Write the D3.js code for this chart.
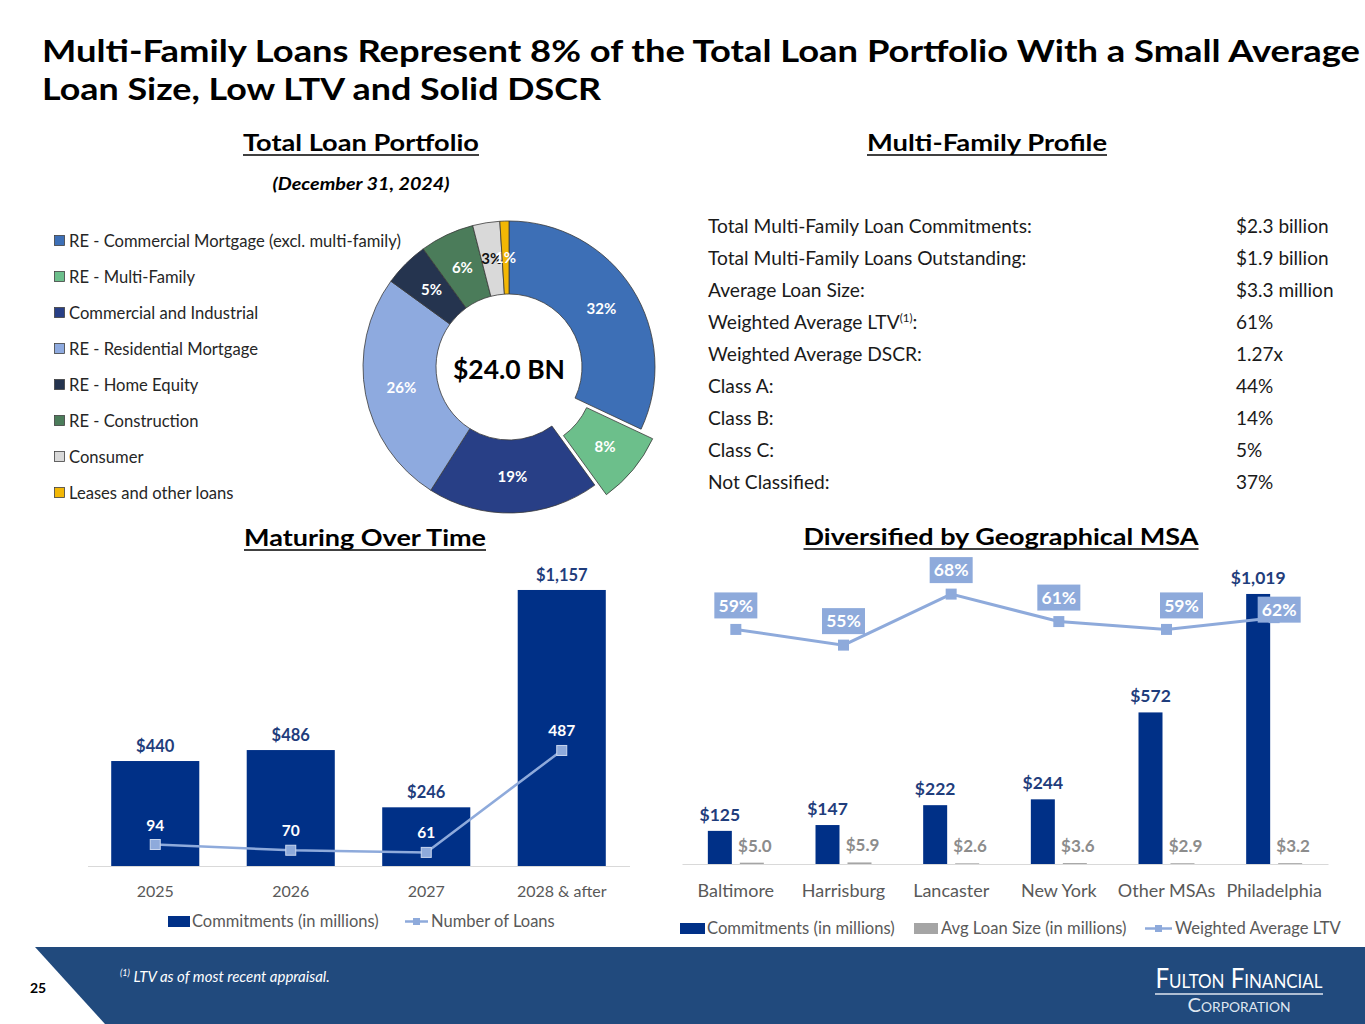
<!DOCTYPE html>
<html><head><meta charset="utf-8">
<script src="https://cdn.jsdelivr.net/npm/d3@7/dist/d3.min.js"></script>
<style>
body{margin:0;background:#fff}
svg{display:block}
text{font-family:Lato,"Open Sans",sans-serif}
</style>
</head><body>
<svg id="c" width="1365" height="1024"></svg>
<script>
// ---------------- DATA ----------------
const titleLines = ["Multi-Family Loans Represent 8% of the Total Loan Portfolio With a Small Average",
                    "Loan Size, Low LTV and Solid DSCR"];
const portfolioCategories = ["RE - Commercial Mortgage (excl. multi-family)","RE - Multi-Family",
  "Commercial and Industrial","RE - Residential Mortgage","RE - Home Equity","RE - Construction",
  "Consumer","Leases and other loans"];
const portfolioShares = [32, 8, 19, 26, 5, 6, 3, 1];
const portfolioTotal = "$24.0 BN";
const portfolioDate = "(December 31, 2024)";

const profileLabels = ["Total Multi-Family Loan Commitments:","Total Multi-Family Loans Outstanding:",
  "Average Loan Size:","Weighted Average LTV","Weighted Average DSCR:","Class A:","Class B:","Class C:","Not Classified:"];
const profileValues = ["$2.3 billion","$1.9 billion","$3.3 million","61%","1.27x","44%","14%","5%","37%"];

const maturityYears = ["2025","2026","2027","2028 & after"];
const maturityCommitments = [440, 486, 246, 1157];
const maturityLoanCounts = [94, 70, 61, 487];

const msaNames = ["Baltimore","Harrisburg","Lancaster","New York","Other MSAs","Philadelphia"];
const msaCommitments = [125, 147, 222, 244, 572, 1019];
const msaAvgLoanSize = [5.0, 5.9, 2.6, 3.6, 2.9, 3.2];
const msaLTV = [59, 55, 68, 61, 59, 62];

// ---------------- STYLE ----------------
const sliceColors = ["#3d6fb6","#6cbf8b","#283f86","#8eaadf","#25344f","#4b7c5a","#d9d9d9","#f2b705"];
const navy = "#003087", labelNavy = "#1f3d7c", ltvBlue = "#8eaadb", greyBar = "#a5a5a5",
      axisText = "#595959", bandBlue = "#214a7d";

const svg = d3.select("#c");

// Title
svg.selectAll("text.title").data(titleLines).join("text").attr("class","title")
  .attr("x",42).attr("y",(d,i)=>62+i*38).attr("font-size",31).attr("font-weight",700).attr("fill","#000")
  .attr("textLength",(d,i)=>i===0?1318:559).attr("lengthAdjust","spacingAndGlyphs").text(d=>d);

// Section headings (underlined)
function heading(txt, cx, y, w){
  svg.append("text").attr("x",cx).attr("y",y).attr("text-anchor","middle").attr("font-size",22.5)
    .attr("font-weight",700).attr("fill","#000").attr("textLength",w).attr("lengthAdjust","spacingAndGlyphs").text(txt);
  svg.append("line").attr("x1",cx-w/2).attr("x2",cx+w/2).attr("y1",y+4).attr("y2",y+4)
    .attr("stroke","#000").attr("stroke-width",1.6);
}
heading("Total Loan Portfolio",361,151,236);
heading("Multi-Family  Profile",987,151,240);
heading("Maturing Over Time",365,546,242);
heading("Diversified by Geographical MSA",1001,545,395);

svg.append("text").attr("x",361).attr("y",190).attr("text-anchor","middle").attr("font-size",16.5)
  .attr("font-weight",700).attr("font-style","italic").attr("fill","#000")
  .attr("textLength",177).attr("lengthAdjust","spacingAndGlyphs").text(portfolioDate);

// ---------------- DONUT ----------------
const cx = 509, cy = 367, rOut = 146, rIn = 73;
const pie = d3.pie().sort(null).value(d=>d)(portfolioShares);
const arc = d3.arc().innerRadius(rIn).outerRadius(rOut);
const labelArc = d3.arc().innerRadius((rIn+rOut)/2).outerRadius((rIn+rOut)/2);
const explodeIdx = 1, explodeBy = 15;
const dg = svg.append("g").attr("transform",`translate(${cx},${cy})`);
const slices = dg.selectAll("g.sl").data(pie).join("g").attr("class","sl")
  .attr("transform",(d,i)=>{
    if(i!==explodeIdx) return null;
    const a=(d.startAngle+d.endAngle)/2;
    return `translate(${Math.sin(a)*explodeBy},${-Math.cos(a)*explodeBy})`;
  });
slices.append("path").attr("d",arc).attr("fill",(d,i)=>sliceColors[i])
  .attr("stroke","#3a3a3a").attr("stroke-width",0.8);
slices.append("text").attr("transform",d=>`translate(${labelArc.centroid(d)})`)
  .attr("text-anchor","middle").attr("dy","0.36em").attr("font-size",15).attr("font-weight",700)
  .attr("fill",(d,i)=>d3.hsl(sliceColors[i]).l>0.8?"#111":"#fff").text(d=>d.data+"%");
dg.append("text").attr("text-anchor","middle").attr("y",12).attr("font-size",27).attr("font-weight",700)
  .attr("fill","#000").attr("textLength",112).attr("lengthAdjust","spacingAndGlyphs").text(portfolioTotal);

// Legend
const lg = svg.append("g");
portfolioCategories.forEach((c,i)=>{
  const y = 241 + i*36;
  lg.append("rect").attr("x",54.5).attr("y",y-5.5).attr("width",10).attr("height",10)
    .attr("fill",sliceColors[i]).attr("stroke","#404040").attr("stroke-width",0.8);
  lg.append("text").attr("x",69).attr("y",y+5.5).attr("font-size",16.6).attr("fill","#262626").text(c);
});

// ---------------- PROFILE TABLE ----------------
const tg = svg.append("g");
profileLabels.forEach((l,i)=>{
  const y = 233 + i*32;
  const t = tg.append("text").attr("x",708).attr("y",y).attr("font-size",19.2).attr("fill","#1a1a1a");
  t.append("tspan").text(l);
  if(l==="Weighted Average LTV"){
    t.append("tspan").attr("font-size",11.5).attr("dy",-7).text("(1)");
    t.append("tspan").attr("dy",7).text(":");
  }
  tg.append("text").attr("x",1236).attr("y",y).attr("font-size",19).attr("fill","#1a1a1a").text(profileValues[i]);
});

// ---------------- MATURING OVER TIME ----------------
{
  const x = d3.scaleBand().domain(maturityYears).range([87.5,629.5]).paddingInner(0.35).paddingOuter(0.175);
  const y = d3.scaleLinear().domain([0,1400]).range([866,532]);
  const yN = d3.scaleLinear().domain([0,1400]).range([867,532]);
  const g = svg.append("g");
  const ax = g.append("g").attr("transform","translate(0,866)").call(d3.axisBottom(x).tickSize(0).tickPadding(20));
  ax.select(".domain").attr("stroke","#d9d9d9").attr("stroke-width",1.2);
  ax.selectAll("text").attr("font-size",16).attr("fill",axisText).attr("font-family","Lato");
  g.selectAll("rect.bar").data(maturityCommitments).join("rect").attr("class","bar")
    .attr("x",(d,i)=>x(maturityYears[i])).attr("width",x.bandwidth())
    .attr("y",d=>y(d)).attr("height",d=>y(0)-y(d)).attr("fill",navy);
  g.selectAll("text.bl").data(maturityCommitments).join("text").attr("class","bl")
    .attr("x",(d,i)=>x(maturityYears[i])+x.bandwidth()/2).attr("y",d=>y(d)-9)
    .attr("text-anchor","middle").attr("font-size",16.5).attr("font-weight",700).attr("fill",labelNavy)
    .text(d=>"$"+d3.format(",")(d));
  const cxs = i=>x(maturityYears[i])+x.bandwidth()/2;
  g.append("path").datum(maturityLoanCounts)
    .attr("d",d3.line().x((d,i)=>cxs(i)).y(d=>yN(d)))
    .attr("fill","none").attr("stroke",ltvBlue).attr("stroke-width",2.5);
  g.selectAll("rect.mk").data(maturityLoanCounts).join("rect").attr("class","mk")
    .attr("x",(d,i)=>cxs(i)-5).attr("y",d=>yN(d)-5).attr("width",10).attr("height",10)
    .attr("fill",ltvBlue).attr("stroke","#c9d6ee").attr("stroke-width",1);
  g.selectAll("text.nl").data(maturityLoanCounts).join("text").attr("class","nl")
    .attr("x",(d,i)=>cxs(i)).attr("y",d=>yN(d)-14)
    .attr("text-anchor","middle").attr("font-size",15.5).attr("font-weight",700).attr("fill","#fff").text(d=>d);
  // legend
  g.append("rect").attr("x",168).attr("y",916).attr("width",22).attr("height",11).attr("fill",navy);
  g.append("text").attr("x",192).attr("y",927).attr("font-size",16.5).attr("fill",axisText).text("Commitments (in millions)");
  g.append("line").attr("x1",405).attr("x2",428).attr("y1",921.5).attr("y2",921.5).attr("stroke",ltvBlue).attr("stroke-width",2.5);
  g.append("rect").attr("x",413).attr("y",918).attr("width",7).attr("height",7).attr("fill",ltvBlue);
  g.append("text").attr("x",431).attr("y",927).attr("font-size",16.5).attr("fill",axisText).text("Number of Loans");
}

// ---------------- MSA ----------------
{
  const x = d3.scaleBand().domain(msaNames).range([682,1328]).paddingInner(0.48).paddingOuter(0.24);
  const x1 = d3.scaleBand().domain(["c","a"]).range([0,x.bandwidth()]).paddingInner(0.25);
  const y = d3.scaleLinear().domain([0,1200]).range([864,546]);
  const yL = d3.scaleLinear().domain([0,80]).range([861,547]);
  const g = svg.append("g");
  const ax = g.append("g").attr("transform","translate(0,864)").call(d3.axisBottom(x).tickSize(0).tickPadding(20));
  ax.select(".domain").attr("stroke","#d9d9d9").attr("stroke-width",1.2);
  ax.selectAll("text").attr("font-size",18).attr("fill",axisText).attr("font-family","Lato");

  g.selectAll("rect.cb").data(msaCommitments).join("rect").attr("class","cb")
    .attr("x",(d,i)=>x(msaNames[i])+x1("c")).attr("width",x1.bandwidth())
    .attr("y",d=>y(d)).attr("height",d=>y(0)-y(d)).attr("fill",navy);
  g.selectAll("rect.ab").data(msaAvgLoanSize).join("rect").attr("class","ab")
    .attr("x",(d,i)=>x(msaNames[i])+x1("a")).attr("width",x1.bandwidth())
    .attr("y",d=>y(d)).attr("height",d=>y(0)-y(d)).attr("fill",greyBar);
  g.selectAll("text.cl").data(msaCommitments).join("text").attr("class","cl")
    .attr("x",(d,i)=>x(msaNames[i])+x1("c")+x1.bandwidth()/2).attr("y",d=>y(d)-10)
    .attr("text-anchor","middle").attr("font-size",17.5).attr("font-weight",700).attr("fill",labelNavy)
    .text(d=>"$"+d3.format(",")(d));
  g.selectAll("text.al").data(msaAvgLoanSize).join("text").attr("class","al")
    .attr("x",(d,i)=>x(msaNames[i])+x1("a")+x1.bandwidth()/2+3).attr("y",d=>y(d)-11)
    .attr("text-anchor","middle").attr("font-size",17).attr("font-weight",700).attr("fill","#8c8c8c")
    .text(d=>"$"+d3.format(".1f")(d));

  const mx = i=>x(msaNames[i])+x.bandwidth()/2;
  g.append("path").datum(msaLTV).attr("d",d3.line().x((d,i)=>mx(i)).y(d=>yL(d)))
    .attr("fill","none").attr("stroke",ltvBlue).attr("stroke-width",3);
  g.selectAll("rect.lm").data(msaLTV).join("rect").attr("class","lm")
    .attr("x",(d,i)=>mx(i)-5.5).attr("y",d=>yL(d)-5.5).attr("width",11).attr("height",11).attr("fill",ltvBlue);
  const nudge = {4:[15,-24],5:[5,-8]};
  const lbl = g.selectAll("g.ll").data(msaLTV).join("g").attr("class","ll")
    .attr("transform",(d,i)=>{const n=nudge[i]||[0,-24];return `translate(${mx(i)+n[0]},${yL(d)+n[1]})`;});
  lbl.append("rect").attr("x",-21.5).attr("y",-13).attr("width",43).attr("height",26).attr("fill",ltvBlue);
  lbl.append("text").attr("text-anchor","middle").attr("dy","0.36em").attr("font-size",17.5).attr("font-weight",700)
    .attr("fill","#fff").text(d=>d+"%");

  // legend
  g.append("rect").attr("x",680).attr("y",923).attr("width",25).attr("height",11).attr("fill",navy);
  g.append("text").attr("x",707).attr("y",934).attr("font-size",16.6).attr("fill",axisText).text("Commitments (in millions)");
  g.append("rect").attr("x",914).attr("y",923).attr("width",24).attr("height",11).attr("fill",greyBar);
  g.append("text").attr("x",941).attr("y",934).attr("font-size",16.6).attr("fill",axisText).text("Avg Loan Size (in millions)");
  g.append("line").attr("x1",1145).attr("x2",1172).attr("y1",928.5).attr("y2",928.5).attr("stroke",ltvBlue).attr("stroke-width",2.5);
  g.append("rect").attr("x",1155).attr("y",925).attr("width",7).attr("height",7).attr("fill",ltvBlue);
  g.append("text").attr("x",1175).attr("y",934).attr("font-size",16.6).attr("fill",axisText).text("Weighted Average LTV");
}

// ---------------- FOOTER ----------------
svg.append("path").attr("d","M35,947 L1365,947 L1365,1024 L105,1024 Z").attr("fill",bandBlue);
svg.append("text").attr("x",30).attr("y",993).attr("font-size",14).attr("font-weight",700).attr("fill","#000").text("25");
const fn = svg.append("text").attr("x",120).attr("y",982).attr("font-size",15).attr("font-style","italic").attr("fill","#fff");
fn.append("tspan").attr("font-size",9).attr("dy",-6).text("(1)");
fn.append("tspan").attr("dy",6).text(" LTV as of most recent appraisal.");
svg.append("text").attr("x",1239).attr("y",988).attr("text-anchor","middle").attr("font-family","'Liberation Serif',serif")
  .attr("font-size",27).style("font-variant","small-caps").attr("fill","#fff")
  .attr("textLength",167).attr("lengthAdjust","spacingAndGlyphs").text("Fulton Financial");
svg.append("line").attr("x1",1155).attr("x2",1323).attr("y1",994).attr("y2",994).attr("stroke","#dfe6f0").attr("stroke-width",1.5);
svg.append("text").attr("x",1239).attr("y",1012).attr("text-anchor","middle").attr("font-family","'Liberation Serif',serif")
  .attr("font-size",19).style("font-variant","small-caps").attr("fill","#dfe6f0")
  .attr("textLength",103).attr("lengthAdjust","spacingAndGlyphs").text("Corporation");
</script>
</body></html>
